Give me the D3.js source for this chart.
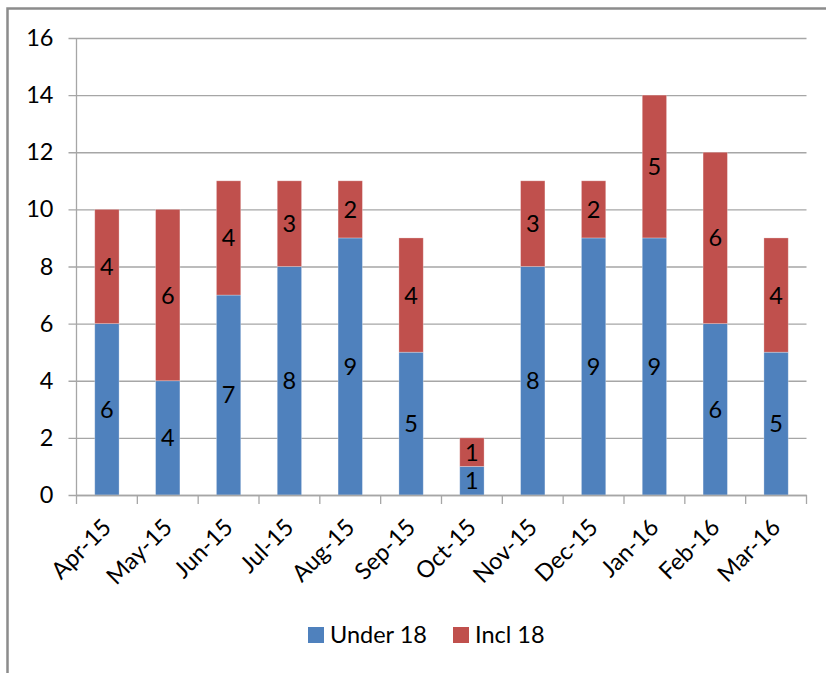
<!DOCTYPE html>
<html>
<head>
<meta charset="utf-8">
<script src="https://cdn.jsdelivr.net/npm/d3@7/dist/d3.min.js"></script>
<style>
  html, body { margin: 0; padding: 0; background: #fff; }
  svg { display: block; }
  text { font-family: Lato, "Open Sans", sans-serif; fill: #000; }
</style>
</head>
<body>
<script>
// Monthly counts, April 2015 to March 2016
const months = ["Apr-15", "May-15", "Jun-15", "Jul-15", "Aug-15", "Sep-15",
                "Oct-15", "Nov-15", "Dec-15", "Jan-16", "Feb-16", "Mar-16"];
const under18 = [6, 4, 7, 8, 9, 5, 1, 8, 9, 9, 6, 5];
const incl18  = [4, 6, 4, 3, 2, 4, 1, 3, 2, 5, 6, 4];
const seriesNames = ["Under 18", "Incl 18"];
const seriesColors = ["#4F81BD", "#C0504D"];
const yTicks = [0, 2, 4, 6, 8, 10, 12, 14, 16];

const W = 826, H = 673;
const FS = 23.5;
const plot = { left: 76.5, right: 806.5, top: 38, bottom: 495 };

const svg = d3.select("body").append("svg")
  .attr("width", W).attr("height", H);

// outer frame
svg.append("path")
  .attr("d", `M7.5,${H + 2} V8.5 H${W + 2}`)
  .attr("fill", "none").attr("stroke", "#8c8c8c").attr("stroke-width", 2.5);

const x = d3.scaleBand().domain(months)
  .range([plot.left, plot.right]).paddingInner(0.6).paddingOuter(0.3);
const xCat = d3.scaleBand().domain(months).range([plot.left, plot.right]);
const y = d3.scaleLinear().domain([0, 16]).range([plot.bottom, plot.top]);

// horizontal gridlines with left tick marks
const yAxis = d3.axisLeft(y).tickValues(yTicks)
  .tickSize(-(plot.right - plot.left)).tickPadding(23).tickFormat(d3.format("d"));
const gy = svg.append("g").attr("transform", `translate(${plot.left},0)`).call(yAxis);
gy.select(".domain").remove();
gy.selectAll(".tick line").attr("stroke", "#a6a6a6").attr("stroke-width", 1.3)
  .attr("x1", -8);
gy.selectAll(".tick text").attr("font-size", FS).attr("font-family", "Lato, sans-serif");

// stacked bars
const rows = months.map((m, i) => ({ month: m, "Under 18": under18[i], "Incl 18": incl18[i] }));
const stacked = d3.stack().keys(seriesNames)(rows);

const layers = svg.append("g").selectAll("g").data(stacked).join("g")
  .attr("fill", (d, i) => seriesColors[i]);

layers.selectAll("rect").data(d => d).join("rect")
  .attr("x", d => x(d.data.month))
  .attr("width", x.bandwidth())
  .attr("y", d => y(d[1]))
  .attr("height", d => y(d[0]) - y(d[1]))
  .attr("stroke", "rgba(255,255,255,0.35)").attr("stroke-width", 0.8);

// value labels centred in each segment
layers.selectAll("text").data(d => d).join("text")
  .attr("x", d => x(d.data.month) + x.bandwidth() / 2)
  .attr("y", d => (y(d[0]) + y(d[1])) / 2)
  .attr("dy", "0.36em")
  .attr("text-anchor", "middle")
  .attr("font-size", FS)
  .text(d => d[1] - d[0]);

// category axis
const xAxis = d3.axisBottom(xCat).tickSize(0).tickFormat(d => d);
const gx = svg.append("g").attr("transform", `translate(0,${plot.bottom})`).call(xAxis);
gx.select(".domain").attr("stroke", "#a6a6a6").attr("stroke-width", 1.3);
gx.selectAll(".tick line").remove();
gx.selectAll(".tick text")
  .attr("font-size", FS)
  .attr("text-anchor", "end")
  .attr("x", 0).attr("y", 0).attr("dy", "0.35em")
  .attr("transform", "translate(0,28) rotate(-45)");

// category boundary ticks
const bounds = months.map(m => xCat(m)).concat([plot.right]);
svg.append("g").selectAll("line").data(bounds).join("line")
  .attr("x1", d => d).attr("x2", d => d)
  .attr("y1", plot.bottom).attr("y2", plot.bottom + 9)
  .attr("stroke", "#a6a6a6").attr("stroke-width", 1.3);

// vertical value axis line
svg.append("line")
  .attr("x1", plot.left).attr("x2", plot.left)
  .attr("y1", plot.top).attr("y2", plot.bottom)
  .attr("stroke", "#a6a6a6").attr("stroke-width", 1.3);

// legend
const legend = svg.append("g").attr("transform", "translate(308,635)");
const items = [{ name: seriesNames[0], color: seriesColors[0], x: 0 },
               { name: seriesNames[1], color: seriesColors[1], x: 145 }];
const li = legend.selectAll("g").data(items).join("g")
  .attr("transform", d => `translate(${d.x},0)`);
li.append("rect").attr("x", 0).attr("y", -8).attr("width", 16).attr("height", 16)
  .attr("fill", d => d.color);
li.append("text").attr("x", 22).attr("dy", "0.36em").attr("font-size", FS)
  .text(d => d.name);
</script>
</body>
</html>
